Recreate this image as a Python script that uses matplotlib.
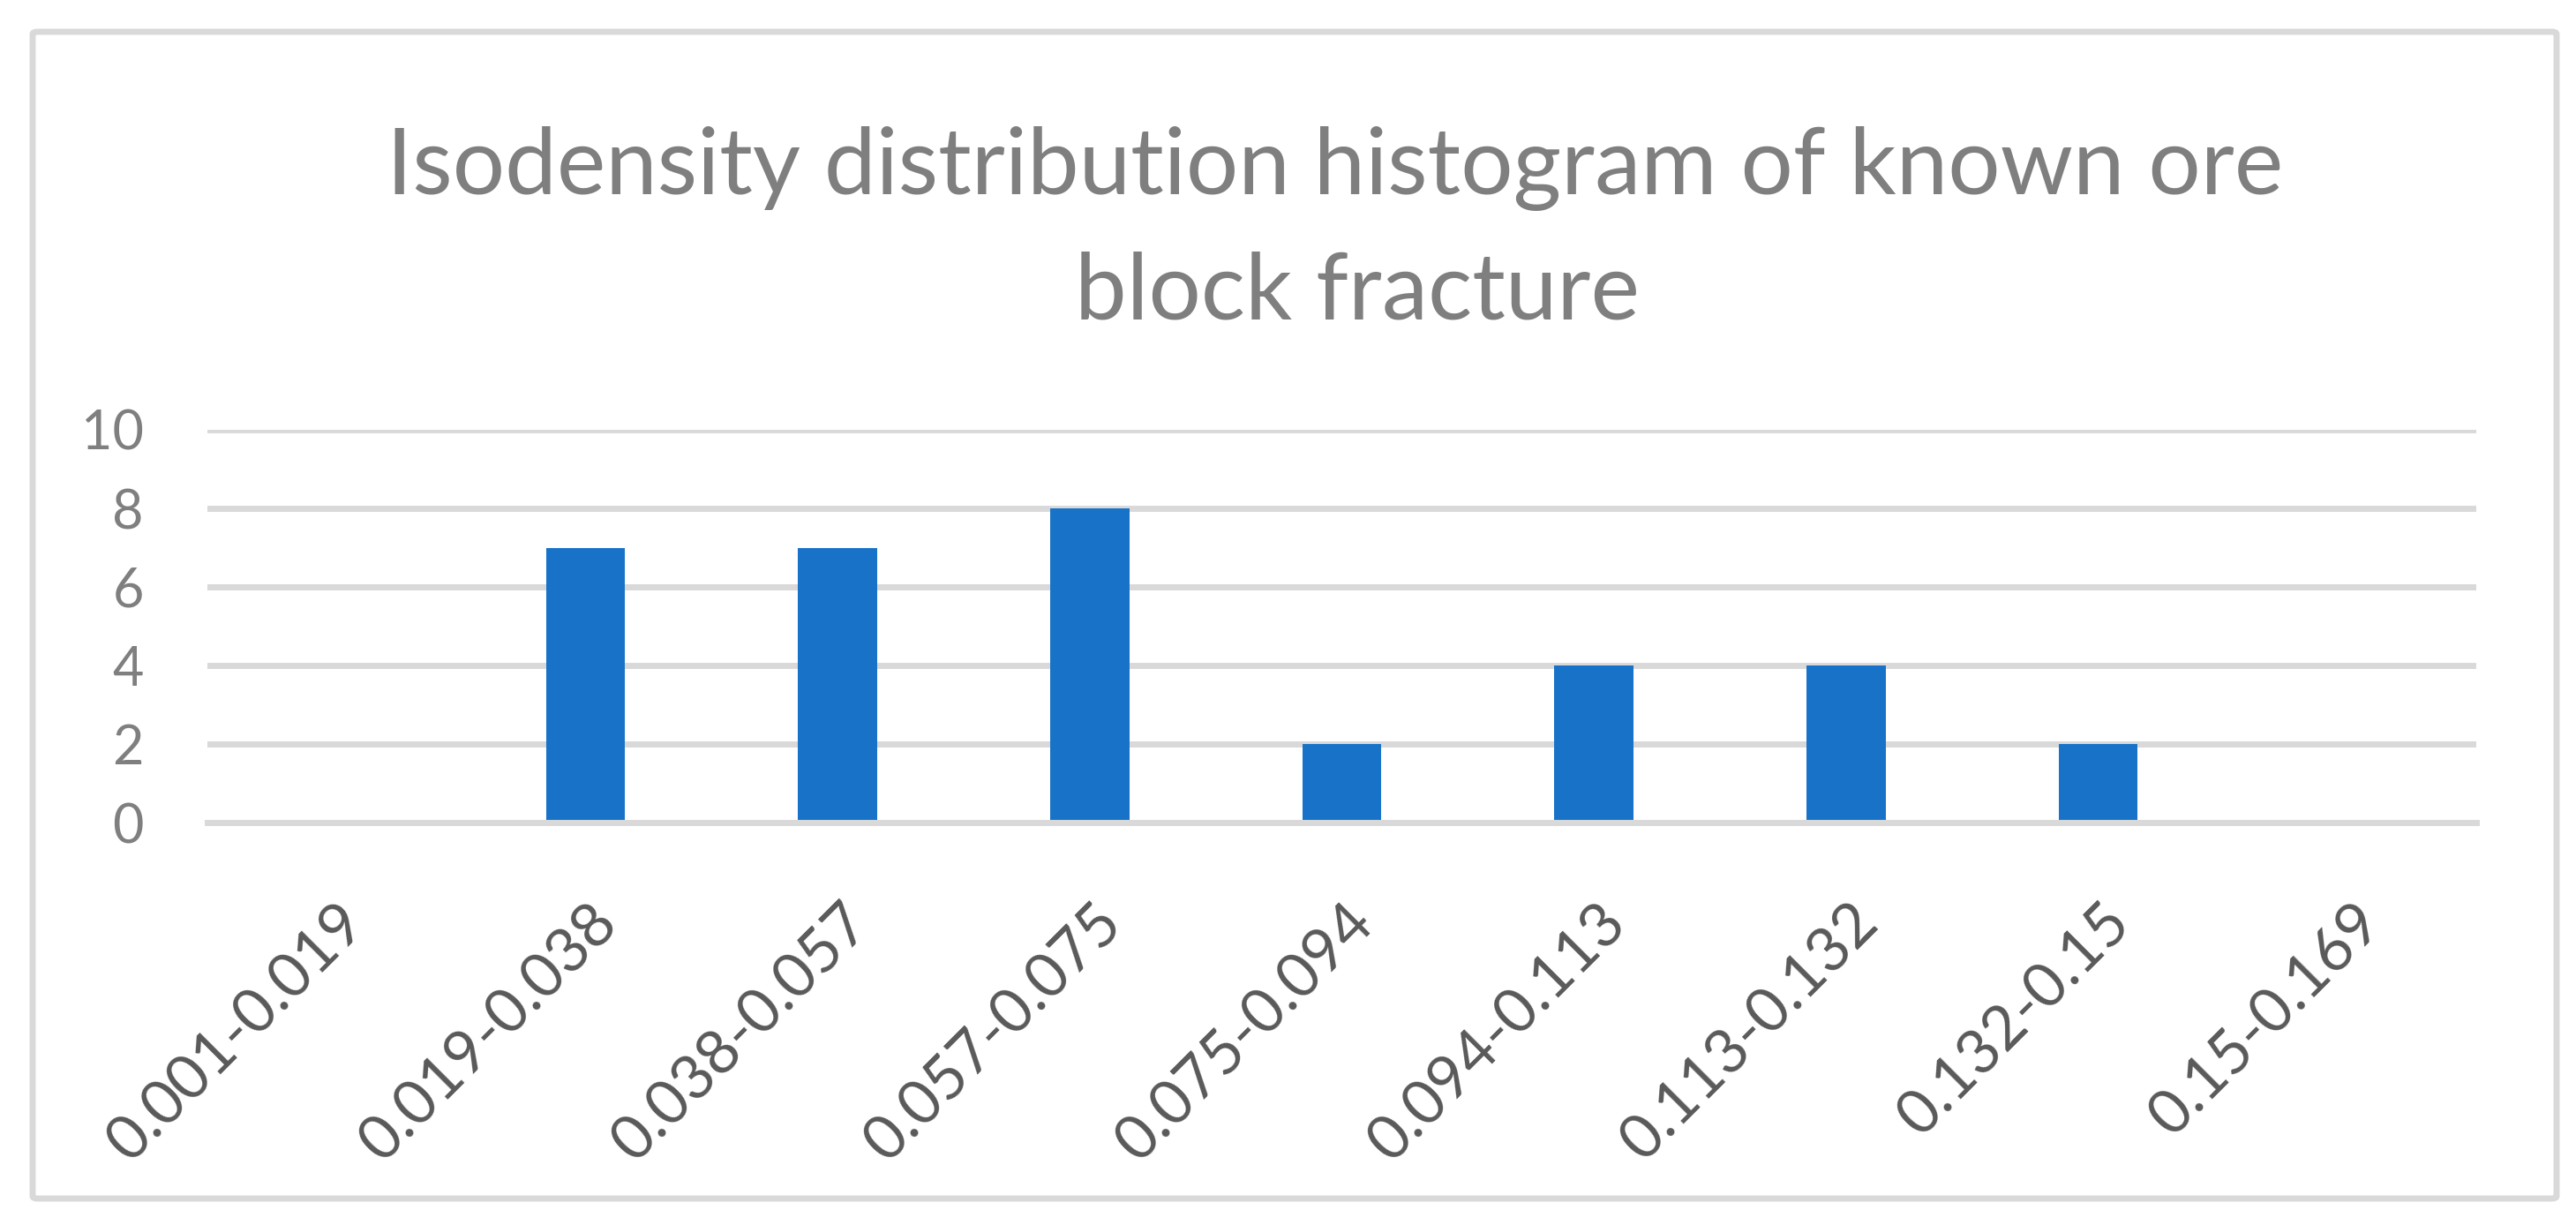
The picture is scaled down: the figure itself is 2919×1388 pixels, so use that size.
import matplotlib
matplotlib.use("Agg")
import matplotlib.pyplot as plt
from matplotlib.patches import FancyBboxPatch
from matplotlib.transforms import ScaledTranslation

categories = ["0.001-0.019", "0.019-0.038", "0.038-0.057", "0.057-0.075",
              "0.075-0.094", "0.094-0.113", "0.113-0.132", "0.132-0.15",
              "0.15-0.169"]
counts = [0, 7, 7, 8, 2, 4, 4, 2, 0]
yticks = [0, 2, 4, 6, 8, 10]
title_lines = ["Isodensity distribution histogram of known ore", "block fracture"]

W, H, DPI = 2919, 1388, 100
plt.rcParams['font.family'] = ['Lato', 'DejaVu Sans']

fig = plt.figure(figsize=(W / DPI, H / DPI), dpi=DPI)
fig.patch.set_facecolor('white')

def px(x, y):
    return x / W, 1 - y / H

# outer chart border
border = FancyBboxPatch(px(37, 1358), (2897 - 37) / W, (1358 - 36) / H,
                        boxstyle="round,pad=0,rounding_size=0.002",
                        transform=fig.transFigure, facecolor='none',
                        edgecolor='#D9D9D9', linewidth=5.0)
fig.patches.append(border)

left, right = 235 / W, 2806 / W
bottom, top = 1 - 932 / H, 1 - 487 / H
ax = fig.add_axes([left, bottom, right - left, top - bottom])

x = list(range(len(categories)))
ax.bar(x, counts, width=0.315, color='#1873C8', zorder=2)
ax.set_xlim(-0.5, len(categories) - 0.5)
ax.set_ylim(0, 10)
ax.set_yticks(yticks)
ax.set_yticklabels([str(v) for v in yticks])
ax.set_axisbelow(True)
ax.yaxis.grid(True, color='#D9D9D9', linewidth=5.0, zorder=0)
for s in ['top', 'left', 'right']:
    ax.spines[s].set_visible(False)
ax.spines['bottom'].set_color('#D9D9D9')
ax.spines['bottom'].set_linewidth(5.0)
ax.spines['bottom'].set_zorder(3)
ax.tick_params(axis='both', length=0)
ax.tick_params(axis='y', labelsize=44, labelcolor='#7F7F7F', pad=52)

ax.set_xticks(x)
ax.set_xticklabels(categories, rotation=45, ha='right', va='center',
                   rotation_mode='anchor', fontsize=50, color='#595959')
ax.tick_params(axis='x', pad=74)
off = ScaledTranslation(26 / DPI, 0, fig.dpi_scale_trans)
for lab in ax.get_xticklabels():
    lab.set_transform(lab.get_transform() + off)

# title, two lines as wrapped in the original
t1 = fig.text(1513 / W, 1 - 220 / H, title_lines[0], ha='center', va='baseline',
              fontsize=80, color='#7F7F7F')
t2 = fig.text(1538 / W, 1 - 362 / H, title_lines[1], ha='center', va='baseline',
              fontsize=80, color='#7F7F7F')
fig.canvas.draw()
r = fig.canvas.get_renderer()
w1 = t1.get_window_extent(r).width
fs = 80 * 2149 / w1
t1.set_fontsize(fs)
t2.set_fontsize(fs)

fig.savefig('out.png', dpi=DPI, facecolor='white')
